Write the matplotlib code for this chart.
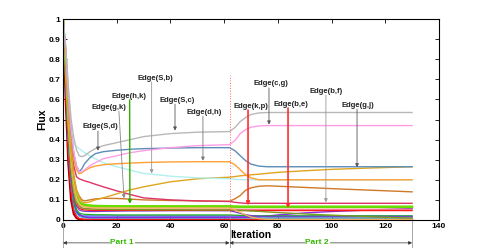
import matplotlib
matplotlib.use("Agg")
import matplotlib.pyplot as plt

plt.rcParams["font.family"] = ["Liberation Sans", "DejaVu Sans"]

# iteration grid
iterations = [0, 1, 2, 3, 4, 5, 6, 7, 8, 10, 12, 15, 20, 25, 30, 40, 50, 62,
              64, 66, 68, 70, 73, 76, 80, 90, 100, 115, 130]

flux_grey = [1.00, 0.86, 0.66, 0.50, 0.41, 0.35, 0.32, 0.315, 0.32, 0.34, 0.355, 0.37, 0.385, 0.40, 0.415, 0.43, 0.437, 0.44,
             0.46, 0.49, 0.51, 0.525, 0.533, 0.535, 0.535, 0.535, 0.535, 0.535, 0.535]
flux_pink = [1.00, 0.85, 0.62, 0.45, 0.34, 0.27, 0.24, 0.24, 0.25, 0.27, 0.285, 0.305, 0.32, 0.335, 0.345, 0.36, 0.37, 0.375,
             0.395, 0.43, 0.45, 0.462, 0.468, 0.47, 0.47, 0.47, 0.47, 0.47, 0.47]
flux_steel = [1.00, 0.85, 0.62, 0.44, 0.33, 0.27, 0.24, 0.255, 0.28, 0.31, 0.33, 0.34, 0.347, 0.352, 0.355, 0.358, 0.36, 0.36,
              0.345, 0.32, 0.295, 0.278, 0.268, 0.265, 0.265, 0.265, 0.265, 0.265, 0.265]
flux_orange = [1.00, 0.84, 0.60, 0.42, 0.30, 0.25, 0.23, 0.235, 0.245, 0.26, 0.268, 0.275, 0.28, 0.283, 0.286, 0.289, 0.29, 0.29,
               0.275, 0.25, 0.225, 0.21, 0.20, 0.20, 0.20, 0.20, 0.20, 0.20, 0.20]
flux_cyan = [1.00, 0.85, 0.62, 0.45, 0.38, 0.365, 0.355, 0.345, 0.335, 0.32, 0.305, 0.285, 0.265, 0.248, 0.232, 0.218, 0.21, 0.205,
             0.203, 0.201, 0.20, 0.20, 0.20, 0.20, 0.20, 0.20, 0.20, 0.20, 0.20]
flux_gold = [1.00, 0.80, 0.55, 0.35, 0.22, 0.15, 0.11, 0.09, 0.085, 0.09, 0.10, 0.11, 0.13, 0.15, 0.165, 0.19, 0.205, 0.213,
             0.216, 0.22, 0.222, 0.225, 0.228, 0.232, 0.237, 0.245, 0.252, 0.259, 0.265]
flux_crimson = [1.00, 0.82, 0.58, 0.40, 0.27, 0.215, 0.205, 0.20, 0.195, 0.187, 0.178, 0.165, 0.145, 0.127, 0.11, 0.10, 0.095, 0.092,
                0.088, 0.085, 0.083, 0.083, 0.083, 0.083, 0.083, 0.083, 0.083, 0.083, 0.083]
flux_choc = [1.00, 0.80, 0.55, 0.35, 0.22, 0.15, 0.12, 0.10, 0.095, 0.10, 0.105, 0.108, 0.107, 0.104, 0.10, 0.097, 0.095, 0.093,
             0.105, 0.122, 0.148, 0.16, 0.168, 0.17, 0.168, 0.162, 0.156, 0.148, 0.14]
flux_lightorange = [1.00, 0.78, 0.50, 0.30, 0.18, 0.11, 0.08, 0.07, 0.065, 0.062, 0.06, 0.06, 0.06, 0.06, 0.06, 0.06, 0.06, 0.06,
                    0.05, 0.038, 0.025, 0.015, 0.006, 0.003, 0.002, 0.002, 0.002, 0.002, 0.002]
flux_yellowgreen = [1.00, 0.76, 0.48, 0.28, 0.16, 0.10, 0.08, 0.07, 0.066, 0.064, 0.063, 0.062, 0.062, 0.062, 0.062, 0.062, 0.062, 0.062,
                    0.062, 0.062, 0.062, 0.062, 0.062, 0.062, 0.062, 0.062, 0.062, 0.062, 0.062]
flux_olive = [1.00, 0.76, 0.47, 0.27, 0.15, 0.09, 0.07, 0.06, 0.057, 0.055, 0.054, 0.053, 0.052, 0.052, 0.051, 0.051, 0.05, 0.05,
              0.049, 0.048, 0.047, 0.045, 0.043, 0.04, 0.037, 0.03, 0.024, 0.016, 0.009]
flux_pinkred = [1.00, 0.75, 0.46, 0.26, 0.14, 0.085, 0.065, 0.058, 0.056, 0.055, 0.055, 0.054, 0.054, 0.054, 0.054, 0.054, 0.054, 0.054,
                0.054, 0.053, 0.053, 0.053, 0.053, 0.053, 0.053, 0.053, 0.053, 0.053, 0.053]
flux_red = [1.00, 0.74, 0.45, 0.25, 0.13, 0.08, 0.06, 0.052, 0.05, 0.048, 0.048, 0.048, 0.048, 0.048, 0.048, 0.048, 0.048, 0.048,
            0.047, 0.047, 0.047, 0.047, 0.047, 0.047, 0.047, 0.047, 0.047, 0.047, 0.047]
flux_mediumpurple = [1.00, 0.74, 0.44, 0.24, 0.12, 0.07, 0.05, 0.045, 0.043, 0.042, 0.042, 0.043, 0.044, 0.045, 0.045, 0.046, 0.046, 0.046,
                     0.04, 0.033, 0.027, 0.022, 0.018, 0.016, 0.016, 0.016, 0.016, 0.016, 0.016]
flux_lime = [1.00, 0.78, 0.50, 0.30, 0.18, 0.12, 0.09, 0.08, 0.075, 0.072, 0.07, 0.069, 0.068, 0.068, 0.068, 0.068, 0.068, 0.068,
             0.067, 0.066, 0.066, 0.066, 0.066, 0.066, 0.066, 0.066, 0.066, 0.066, 0.066]
flux_green = [1.00, 0.72, 0.42, 0.22, 0.10, 0.05, 0.035, 0.03, 0.028, 0.027, 0.026, 0.026, 0.025, 0.025, 0.025, 0.025, 0.025, 0.025,
              0.024, 0.023, 0.022, 0.021, 0.02, 0.02, 0.02, 0.02, 0.02, 0.02, 0.02]
flux_purple = [1.00, 0.72, 0.42, 0.22, 0.10, 0.05, 0.03, 0.02, 0.015, 0.012, 0.012, 0.012, 0.012, 0.012, 0.012, 0.012, 0.012, 0.012,
               0.012, 0.013, 0.013, 0.014, 0.016, 0.02, 0.025, 0.035, 0.042, 0.05, 0.057]
flux_blue = [1.00, 0.70, 0.40, 0.20, 0.09, 0.04, 0.025, 0.02, 0.02, 0.02, 0.02, 0.02, 0.02, 0.02, 0.02, 0.02, 0.02, 0.02,
             0.02, 0.02, 0.02, 0.02, 0.02, 0.02, 0.02, 0.02, 0.02, 0.02, 0.02]
flux_teal = [1.00, 0.70, 0.40, 0.20, 0.08, 0.035, 0.02, 0.015, 0.012, 0.01, 0.01, 0.01, 0.01, 0.01, 0.01, 0.01, 0.01, 0.01,
             0.01, 0.01, 0.01, 0.01, 0.01, 0.01, 0.01, 0.01, 0.01, 0.01, 0.01]
flux_magenta = [1.00, 0.70, 0.39, 0.19, 0.08, 0.035, 0.02, 0.015, 0.013, 0.013, 0.013, 0.013, 0.014, 0.014, 0.014, 0.015, 0.015, 0.015,
                0.015, 0.015, 0.016, 0.016, 0.016, 0.016, 0.016, 0.016, 0.016, 0.016, 0.016]
flux_red2 = [1.00, 0.65, 0.33, 0.14, 0.05, 0.02, 0.008, 0.005, 0.004, 0.004, 0.004, 0.004, 0.004, 0.004, 0.004, 0.004, 0.004, 0.004,
             0.004, 0.004, 0.004, 0.004, 0.004, 0.004, 0.004, 0.004, 0.004, 0.004, 0.004]
flux_darkred = [1.00, 0.60, 0.28, 0.10, 0.03, 0.01, 0.003, 0.001, 0.0, 0.0, 0.0, 0.0, 0.0, 0.0, 0.0, 0.0, 0.0, 0.0,
                0.0, 0.0, 0.0, 0.0, 0.0, 0.0, 0.0, 0.0, 0.0, 0.0, 0.0]

edge_labels = ["Edge(S,d)", "Edge(g,k)", "Edge(h,k)", "Edge(S,b)", "Edge(S,c)", "Edge(d,h)",
               "Edge(k,p)", "Edge(c,g)", "Edge(b,e)", "Edge(b,f)", "Edge(g,j)"]
part_labels = ["Part 1", "Part 2"]
part_bounds = [0, 62, 130]

# (series, colour, linewidth) in drawing order
series = [
    (flux_darkred, "#b00000", 1.6),
    (flux_red2, "#ff2020", 1.0),
    (flux_magenta, "#dd44cc", 0.9),
    (flux_teal, "#22d0d0", 0.9),
    (flux_blue, "#3355ff", 0.9),
    (flux_purple, "#8a2be2", 1.0),
    (flux_green, "#22aa22", 0.9),
    (flux_mediumpurple, "#7744cc", 0.9),
    (flux_red, "#ff1a1a", 1.0),
    (flux_pinkred, "#ff7090", 0.9),
    (flux_olive, "#7a9a20", 1.0),
    (flux_yellowgreen, "#a8d840", 1.0),
    (flux_lime, "#66dd00", 1.8),
    (flux_lightorange, "#ffb060", 0.9),
    (flux_choc, "#d07828", 1.0),
    (flux_crimson, "#dd3366", 1.0),
    (flux_gold, "#dfa51f", 1.0),
    (flux_cyan, "#b0f0ee", 1.0),
    (flux_orange, "#ffa033", 1.0),
    (flux_steel, "#5b8db8", 1.0),
    (flux_pink, "#ff9ee6", 1.0),
    (flux_grey, "#b8b8b8", 1.0),
]

# label centre, line start, arrow tip, line colour, line width
callouts = [
    ((13.8, 0.463), (13.0, 0.443), (13.0, 0.345), "#555555", 0.6),
    ((17.1, 0.562), (20.8, 0.542), (22.7, 0.108), "#888888", 0.6),
    ((24.6, 0.617), (24.8, 0.598), (24.9, 0.080), "#33aa00", 1.0),
    ((34.3, 0.706), (33.0, 0.687), (33.0, 0.232), "#999999", 0.6),
    ((42.4, 0.597), (41.7, 0.577), (41.7, 0.445), "#555555", 0.6),
    ((52.5, 0.537), (52.1, 0.517), (52.1, 0.295), "#777777", 0.6),
    ((70.0, 0.567), (68.9, 0.547), (68.9, 0.072), "#ff3030", 1.2),
    ((77.4, 0.677), (76.7, 0.657), (76.7, 0.475), "#555555", 0.6),
    ((84.9, 0.577), (83.8, 0.557), (83.8, 0.058), "#ff3030", 1.2),
    ((97.9, 0.642), (97.9, 0.622), (97.9, 0.088), "#999999", 0.6),
    ((109.8, 0.572), (109.5, 0.552), (109.5, 0.262), "#555555", 0.6),
]


fig = plt.figure(figsize=(4.85, 2.48), dpi=100)
ax = fig.add_axes([0.130, 0.113, 0.775, 0.810])

for values, color, lw in series:
    ax.plot(iterations, values, color=color, lw=lw, solid_joinstyle="round")

ax.set_xlim(0, 140)
ax.set_ylim(0, 1)
ax.set_xticks(range(0, 141, 20))
ax.set_yticks([i / 10 for i in range(11)])
ax.set_yticklabels(["0", "0.1", "0.2", "0.3", "0.4", "0.5", "0.6", "0.7", "0.8", "0.9", "1"])
ax.tick_params(direction="in", top=True, right=True, length=3, width=0.6,
               labelsize=6, pad=2)
for lab in ax.get_xticklabels() + ax.get_yticklabels():
    lab.set_fontweight("bold")
for sp in ax.spines.values():
    sp.set_linewidth(0.8)

ax.set_ylabel("Flux", fontsize=7.5, fontweight="bold", labelpad=1)
ax.set_xlabel("Iteration", fontsize=7.5, fontweight="bold", labelpad=0)

# boundary between the two parts
ax.plot([62, 62], [0, 0.72], color="#ff6666", lw=0.7, ls=":")

for label, (text_xy, start, tip, color, lw) in zip(edge_labels, callouts):
    ax.text(text_xy[0], text_xy[1], label, ha="center", va="center",
            fontsize=5.5, fontweight="bold", color="#222222")
    ax.annotate("", xy=tip, xytext=start,
                arrowprops=dict(arrowstyle="-|>", color=color, lw=lw,
                                shrinkA=0, shrinkB=0, mutation_scale=5))

# part markers under the axis
for xb in part_bounds:
    ax.plot([xb, xb], [0, -0.145], color="#999999", lw=0.6, clip_on=False)
for i, label in enumerate(part_labels):
    x0, x1 = part_bounds[i], part_bounds[i + 1]
    ax.annotate("", xy=(x1, -0.114), xytext=(x0, -0.114), annotation_clip=False,
                arrowprops=dict(arrowstyle="<|-|>", color="#333333", lw=0.5,
                                shrinkA=0, shrinkB=0, mutation_scale=5))
ax.text(22, -0.114, part_labels[0], ha="center", va="center", fontsize=6,
        fontweight="bold", color="#33bb00", clip_on=False,
        bbox=dict(facecolor="white", edgecolor="none", pad=0.5))
ax.text(94.6, -0.114, part_labels[1], ha="center", va="center", fontsize=6,
        fontweight="bold", color="#33bb00", clip_on=False,
        bbox=dict(facecolor="white", edgecolor="none", pad=0.5))

fig.savefig("out.png", dpi=100)
